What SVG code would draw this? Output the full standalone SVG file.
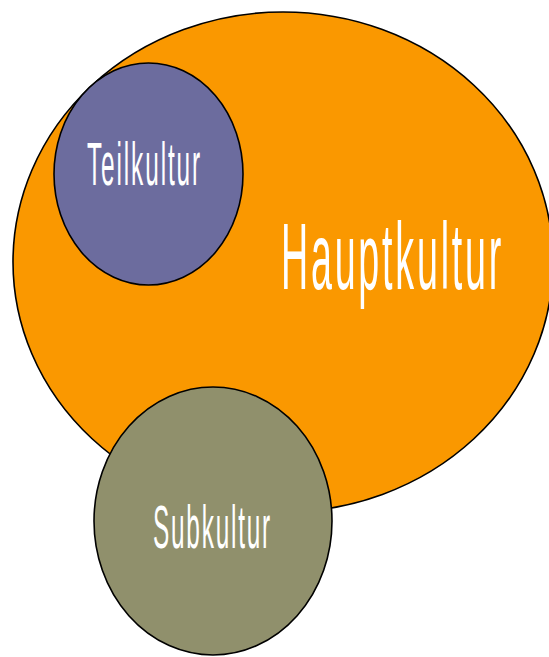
<svg xmlns="http://www.w3.org/2000/svg" width="549" height="657" viewBox="0 0 549 657">
<style>
.shape{stroke:#000;stroke-width:1.6}
.lbl{font-family:"Liberation Sans",Arial,sans-serif;fill:#fff}
</style>
<rect width="549" height="657" fill="#fff"/>
<g id="hauptkultur">
<ellipse class="shape" cx="283" cy="262" rx="270" ry="250" fill="#FA9800"/>
<text class="lbl" transform="translate(281,289) scale(0.4,1)" x="0" y="0" font-size="94" letter-spacing="7">Hauptkultur</text>
</g>
<g id="teilkultur">
<ellipse class="shape" cx="148.5" cy="174" rx="94.5" ry="111" fill="#6C6C9E"/>
<text class="lbl" transform="translate(87,185) scale(0.4,1)" x="0" y="0" font-size="61" letter-spacing="4.7">Teilkultur</text>
</g>
<g id="subkultur">
<ellipse class="shape" cx="213" cy="521" rx="119" ry="134" fill="#90906C"/>
<text class="lbl" transform="translate(153,548) scale(0.4,1)" x="0" y="0" font-size="61" letter-spacing="4.4">Subkultur</text>
</g>
<g id="connectors"/>
</svg>
